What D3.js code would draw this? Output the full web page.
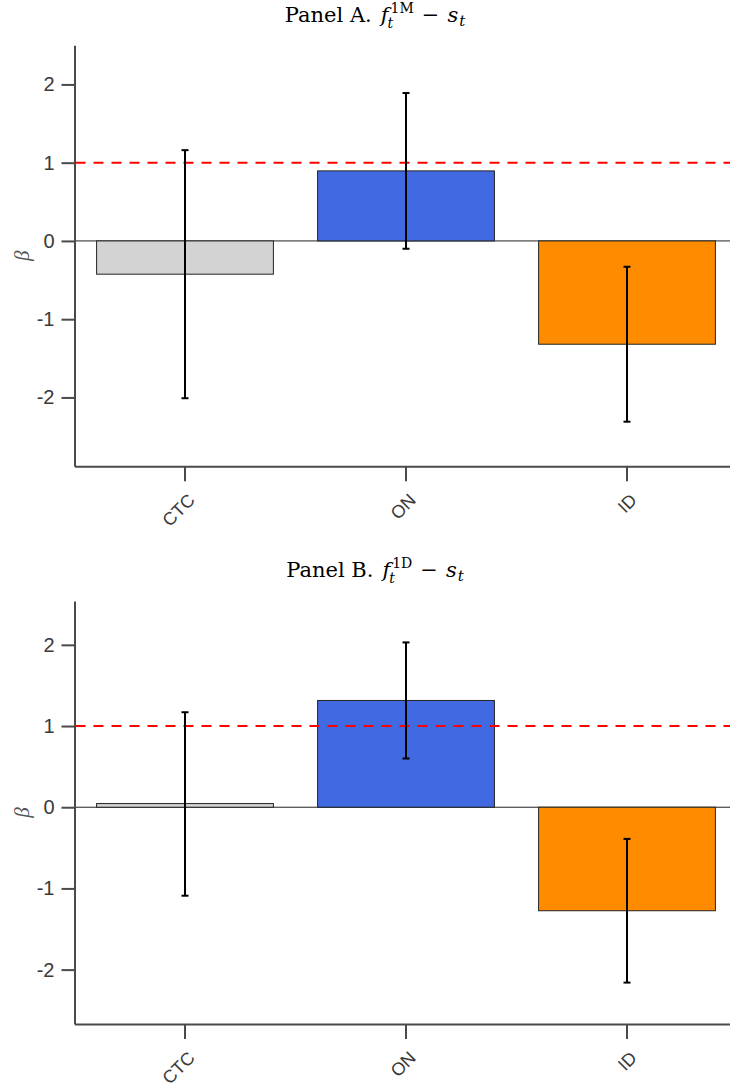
<!DOCTYPE html>
<html>
<head>
<meta charset="utf-8">
<script src="https://cdn.jsdelivr.net/npm/d3@7"></script>
<style>
  html, body { margin: 0; padding: 0; background: #fff; }
  svg { display: block; }
</style>
</head>
<body>
<div id="chart"></div>
<script>
// ---------------- DATA ----------------
const categories = ["CTC", "ON", "ID"];
const barColors = ["#d3d3d3", "#4169e1", "#ff8c00"];

const panelA_beta = [-0.425, 0.895, -1.32];
const panelA_lo   = [-2.01, -0.10, -2.31];
const panelA_hi   = [1.16, 1.89, -0.33];

const panelB_beta = [0.045, 1.315, -1.275];
const panelB_lo   = [-1.09, 0.60, -2.16];
const panelB_hi   = [1.17, 2.03, -0.39];

const yTickValues = [-2, -1, 0, 1, 2];
const referenceLevel = 1;

const panelLetters = ["A", "B"];
const panelSuperscripts = ["1M", "1D"];

// ---------------- LAYOUT ----------------
const W = 730, H = 1086;
const xRange = [74.5, 737.5];
const layouts = [
  { yDomain: [-2.88, 2.5], yRange: [466.3, 45.3], titleY: 22 },
  { yDomain: [-2.67, 2.54], yRange: [1024, 601], titleY: 577 }
];
const panelData = [
  { beta: panelA_beta, lo: panelA_lo, hi: panelA_hi },
  { beta: panelB_beta, lo: panelB_lo, hi: panelB_hi }
];

const AXIS_COLOR = "#4a4a4a";
const LABEL_COLOR = "#3a3a3a";
const SANS = "'Liberation Sans', Arial, Helvetica, sans-serif";
const SERIF = "'DejaVu Serif', 'Liberation Serif', serif";

const svg = d3.select("#chart").append("svg")
  .attr("width", W).attr("height", H)
  .attr("viewBox", `0 0 ${W} ${H}`);

function drawTitle(cx, baseline, letter, sup) {
  const g = svg.append("g");
  const t = g.append("text")
    .attr("x", 0).attr("y", baseline)
    .style("font-family", SERIF).style("font-size", "21px")
    .attr("fill", "#000");
  t.append("tspan").text(`Panel ${letter}.`);
  t.append("tspan").attr("dx", 9).style("font-style", "italic").text("f");
  const supT = t.append("tspan").attr("dx", 2).attr("dy", -9)
    .style("font-size", "14px").text(sup);
  const sx = supT.node().getStartPositionOfChar(0).x;
  const ex = supT.node().getEndPositionOfChar(sup.length - 1).x;
  t.append("tspan").attr("x", sx - 3).attr("dy", 15)
    .style("font-size", "14px").style("font-style", "italic").text("t");
  t.append("tspan").attr("x", ex + 8).attr("dy", -6).text("\u2212");
  t.append("tspan").attr("dx", 8).style("font-style", "italic").text("s");
  t.append("tspan").attr("dx", 1).attr("dy", 4).style("font-size", "15px")
    .style("font-style", "italic").text("t");
  const bb = t.node().getBBox();
  g.attr("transform", `translate(${cx - bb.x - bb.width / 2},0)`);
}

layouts.forEach((L, pi) => {
  const D = panelData[pi];
  const x = d3.scaleBand().domain(categories).range(xRange)
    .paddingInner(0.2).paddingOuter(0.1);
  const y = d3.scaleLinear().domain(L.yDomain).range(L.yRange);
  const xCenter = c => x(c) + x.bandwidth() / 2;

  const g = svg.append("g");

  // zero baseline
  g.append("line")
    .attr("x1", xRange[0]).attr("x2", W)
    .attr("y1", y(0)).attr("y2", y(0))
    .attr("stroke", "#222").attr("stroke-width", 1);

  // bars
  g.selectAll("rect.bar").data(categories).enter().append("rect")
    .attr("class", "bar")
    .attr("x", c => x(c))
    .attr("width", x.bandwidth())
    .attr("y", (c, i) => y(Math.max(0, D.beta[i])))
    .attr("height", (c, i) => Math.abs(y(D.beta[i]) - y(0)))
    .attr("fill", (c, i) => barColors[i])
    .attr("stroke", "#222").attr("stroke-width", 1);

  // reference dashed line
  g.append("line")
    .attr("x1", xRange[0] + 1).attr("x2", W)
    .attr("y1", y(referenceLevel)).attr("y2", y(referenceLevel))
    .attr("stroke", "#ff0000").attr("stroke-width", 2)
    .attr("stroke-dasharray", "10,8");

  // error bars
  const eb = g.selectAll("g.eb").data(categories).enter().append("g").attr("class", "eb");
  eb.append("line")
    .attr("x1", c => xCenter(c)).attr("x2", c => xCenter(c))
    .attr("y1", (c, i) => y(D.lo[i])).attr("y2", (c, i) => y(D.hi[i]))
    .attr("stroke", "#000").attr("stroke-width", 2);
  eb.append("line")
    .attr("x1", c => xCenter(c) - 3.5).attr("x2", c => xCenter(c) + 3.5)
    .attr("y1", (c, i) => y(D.lo[i])).attr("y2", (c, i) => y(D.lo[i]))
    .attr("stroke", "#000").attr("stroke-width", 2);
  eb.append("line")
    .attr("x1", c => xCenter(c) - 3.5).attr("x2", c => xCenter(c) + 3.5)
    .attr("y1", (c, i) => y(D.hi[i])).attr("y2", (c, i) => y(D.hi[i]))
    .attr("stroke", "#000").attr("stroke-width", 2);

  // y axis
  const yAxis = g.append("g")
    .attr("transform", `translate(${xRange[0]},0)`)
    .call(d3.axisLeft(y).tickValues(yTickValues).tickSize(13).tickSizeOuter(0)
      .tickPadding(7).tickFormat(d => String(d)));
  yAxis.select(".domain").attr("stroke", AXIS_COLOR).attr("stroke-width", 2);
  yAxis.selectAll(".tick line").attr("stroke", AXIS_COLOR).attr("stroke-width", 2);
  yAxis.selectAll(".tick text")
    .attr("fill", LABEL_COLOR)
    .style("font-family", SANS).style("font-size", "20px");

  // x axis
  const xAxis = g.append("g")
    .attr("transform", `translate(0,${L.yRange[0]})`)
    .call(d3.axisBottom(x).tickSize(15).tickSizeOuter(0));
  xAxis.select(".domain").attr("stroke", AXIS_COLOR).attr("stroke-width", 2);
  xAxis.selectAll(".tick line").attr("stroke", AXIS_COLOR).attr("stroke-width", 2);
  xAxis.selectAll(".tick text")
    .attr("x", 0).attr("y", 0).attr("dy", 0)
    .attr("text-anchor", "end")
    .attr("transform", "translate(11,35) rotate(-45)")
    .attr("fill", LABEL_COLOR)
    .style("font-family", SANS).style("font-size", "18px");

  // y label
  const yMid = (L.yRange[0] + L.yRange[1]) / 2;
  svg.append("text")
    .attr("transform", `translate(29,${yMid}) rotate(-90)`)
    .attr("text-anchor", "middle")
    .style("font-family", "'Liberation Serif', serif")
    .style("font-style", "italic").style("font-size", "21px")
    .attr("fill", "#555")
    .text("\u03B2");

  drawTitle(375.5, L.titleY, panelLetters[pi], panelSuperscripts[pi]);
});
</script>
</body>
</html>
